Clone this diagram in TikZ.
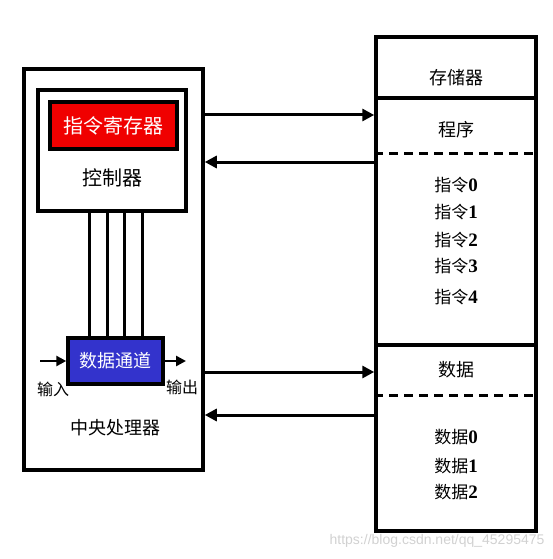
\documentclass[tikz,border=0pt]{standalone}
\usepackage{fontspec}
\setmainfont{Liberation Serif}
\setsansfont{Liberation Sans}
\newfontfamily\cjk{Noto Sans CJK SC}
\usetikzlibrary{arrows.meta}
\definecolor{regred}{RGB}{240,0,0}
\definecolor{pathblue}{RGB}{51,51,204}
\begin{document}
\begin{tikzpicture}[x=1pt,y=-1pt]
    \tikzstyle{box}=[draw,line width=3.5pt,inner sep=0pt]
    \tikzstyle{lbl}=[font=\cjk\fontsize{18}{20}\selectfont,inner sep=0pt]
    \tikzstyle{item}=[font=\cjk\fontsize{17}{19}\selectfont,inner sep=0pt]
    \tikzstyle{arr}=[line width=3pt,-{Triangle[length=12pt,width=12pt]}]
    \tikzstyle{io}=[line width=2.5pt,-{Triangle[length=10pt,width=10pt]}]
    \useasboundingbox (0,0) rectangle (552,559);
    % CPU side
    \node[box,minimum width=179pt,minimum height=401pt] (cpu) at (113.5,269.5){};
    \node[box,minimum width=148pt,minimum height=121pt] (ctrl) at (112,150.5){};
    \node[box,fill=regred,minimum width=127pt,minimum height=47pt,text=white,font=\cjk\fontsize{20}{22}\selectfont] (ir) at (113.5,125.5){指令寄存器};
    \node[lbl,font=\cjk\fontsize{20}{22}\selectfont] (ctrlname) at (112,178){控制器};
    \node[box,fill=pathblue,minimum width=95pt,minimum height=46pt,text=white] (dp) at (115.5,361){\cjk\fontsize{18}{20}\selectfont 数据通道};
    \foreach \x in {89,107,124,142}
      \draw[line width=3pt] (ctrl.south -| \x,0) -- (dp.north -| \x,0);
    \coordinate (inp) at (40,361);
    \coordinate (outp) at (186,361);
    \draw[io] (inp) -- (dp.west);
    \draw[io] (dp.east) -- (outp);
    \node[lbl,font=\cjk\fontsize{16}{18}\selectfont] (inlbl) at (53,389){输入};
    \node[lbl,font=\cjk\fontsize{16}{18}\selectfont] (outlbl) at (182,387){输出};
    \node[lbl] (cpuname) at (115,428){中央处理器};
    % memory side
    \node[box,minimum width=160pt,minimum height=494pt] (mem) at (456,284){};
    \draw[line width=3.5pt] (mem.west |- 0,98) -- (mem.east |- 0,98);
    \draw[line width=3.5pt] (mem.west |- 0,345) -- (mem.east |- 0,345);
    \draw[line width=3pt,dashed,dash pattern=on 9pt off 6pt] (mem.west |- 0,153) -- (mem.east |- 0,153);
    \draw[line width=3pt,dashed,dash pattern=on 9pt off 6pt] (mem.west |- 0,395) -- (mem.east |- 0,395);
    \node[lbl] (memname) at (456,78){存储器};
    \node[lbl] (prog) at (456,130){程序};
    \foreach \i/\y in {0/185,1/212,2/240,3/266,4/297}
      \node[item] (ins\i) at (456,\y){指令{\rmfamily\bfseries\fontsize{19}{21}\selectfont\i}};
    \node[lbl] (data) at (456,370){数据};
    \foreach \i/\y in {0/437,1/466,2/492}
      \node[item] (dat\i) at (456,\y){数据{\rmfamily\bfseries\fontsize{19}{21}\selectfont\i}};
    % buses
    \draw[arr] (cpu.east |- 0,115) -- (mem.west |- 0,115);
    \draw[arr] (mem.west |- 0,162) -- (cpu.east |- 0,162);
    \draw[arr] (cpu.east |- 0,372) -- (mem.west |- 0,372);
    \draw[arr] (mem.west |- 0,415) -- (cpu.east |- 0,415);
    \node[font=\sffamily\fontsize{14}{16}\selectfont,text=black!18,anchor=east] (mark) at (548,541){https://blog.csdn.net/qq\_45295475};
\end{tikzpicture}
\end{document}
